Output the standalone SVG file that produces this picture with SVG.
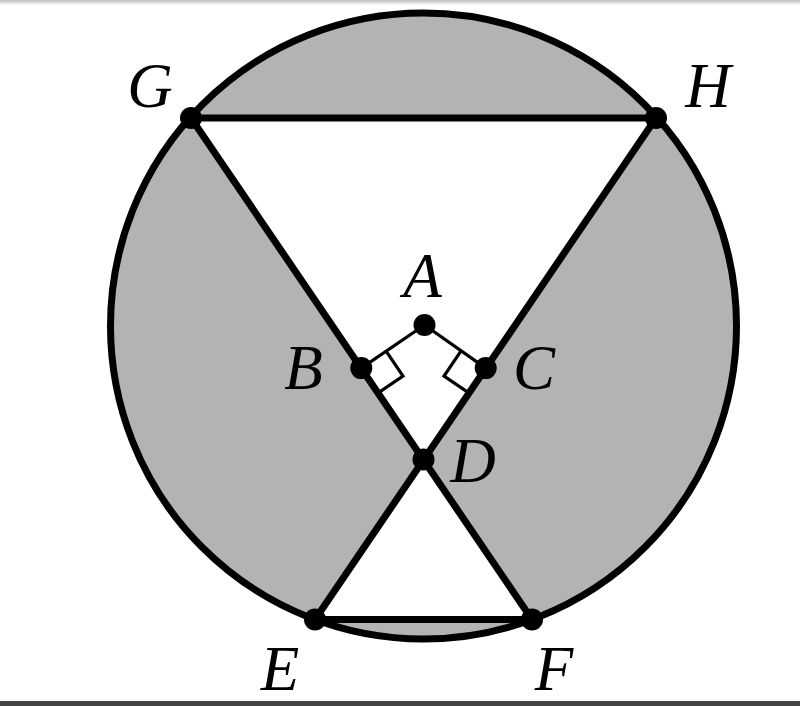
<svg xmlns="http://www.w3.org/2000/svg" width="800" height="706" viewBox="0 0 800 706">
<defs>
<linearGradient id="topfade" x1="0" y1="0" x2="0" y2="1">
<stop offset="0" stop-color="#bdbdbd"/>
<stop offset="1" stop-color="#ffffff"/>
</linearGradient>
</defs>
<style>
.lbl{font-family:"Liberation Serif","Times New Roman",serif;font-style:italic;font-size:63px;fill:#000;text-anchor:middle}
.thick{stroke:#000;stroke-width:7;fill:none;stroke-linecap:round;stroke-linejoin:round}
.thin{stroke:#000;stroke-width:3.2;fill:none;stroke-linejoin:miter}
.dot{fill:#000}
</style>
<rect x="0" y="0" width="800" height="706" fill="#fff"/>
<rect x="0" y="0" width="800" height="5" fill="url(#topfade)"/>
<rect x="0" y="701" width="800" height="5" fill="#444"/>
<g id="regions">
<circle cx="423.5" cy="326" r="313" fill="#b3b3b3"/>
<polygon points="191,118 656,118 423.5,459.5" fill="#fff"/>
<polygon points="423.5,459.5 315,619.5 532,619.5" fill="#fff"/>
</g>
<g id="connectors">
<circle cx="423.5" cy="326" r="313" class="thick"/>
<line x1="191" y1="118" x2="656" y2="118" class="thick"/>
<line x1="191" y1="118" x2="532" y2="619.5" class="thick"/>
<line x1="656" y1="118" x2="315" y2="619.5" class="thick"/>
<line x1="315" y1="619.5" x2="532" y2="619.5" class="thick"/>
<line x1="424.5" y1="325" x2="361.3" y2="368.1" class="thin"/>
<line x1="424.5" y1="325" x2="485.7" y2="368.1" class="thin"/>
<polyline points="386.1,351.2 403,376 378.2,392.9" class="thin"/>
<polyline points="460.9,351.2 444,376 468.8,392.9" class="thin"/>
</g>
<g id="G"><circle cx="191" cy="118" r="11" class="dot"/><text x="150" y="107" class="lbl">G</text></g>
<g id="H"><circle cx="656" cy="118" r="11" class="dot"/><text x="708" y="107" class="lbl">H</text></g>
<g id="A"><circle cx="424.5" cy="325" r="11" class="dot"/><text x="422.5" y="297" class="lbl">A</text></g>
<g id="B"><circle cx="361.3" cy="368.1" r="11" class="dot"/><text x="303.5" y="389" class="lbl">B</text></g>
<g id="C"><circle cx="485.7" cy="368.1" r="11" class="dot"/><text x="534" y="389" class="lbl">C</text></g>
<g id="D"><circle cx="423.5" cy="459.5" r="11" class="dot"/><text x="473" y="482" class="lbl">D</text></g>
<g id="E"><circle cx="315" cy="619.5" r="11" class="dot"/><text x="280" y="690" class="lbl">E</text></g>
<g id="F"><circle cx="532" cy="619.5" r="11" class="dot"/><text x="554" y="690" class="lbl">F</text></g>
</svg>
